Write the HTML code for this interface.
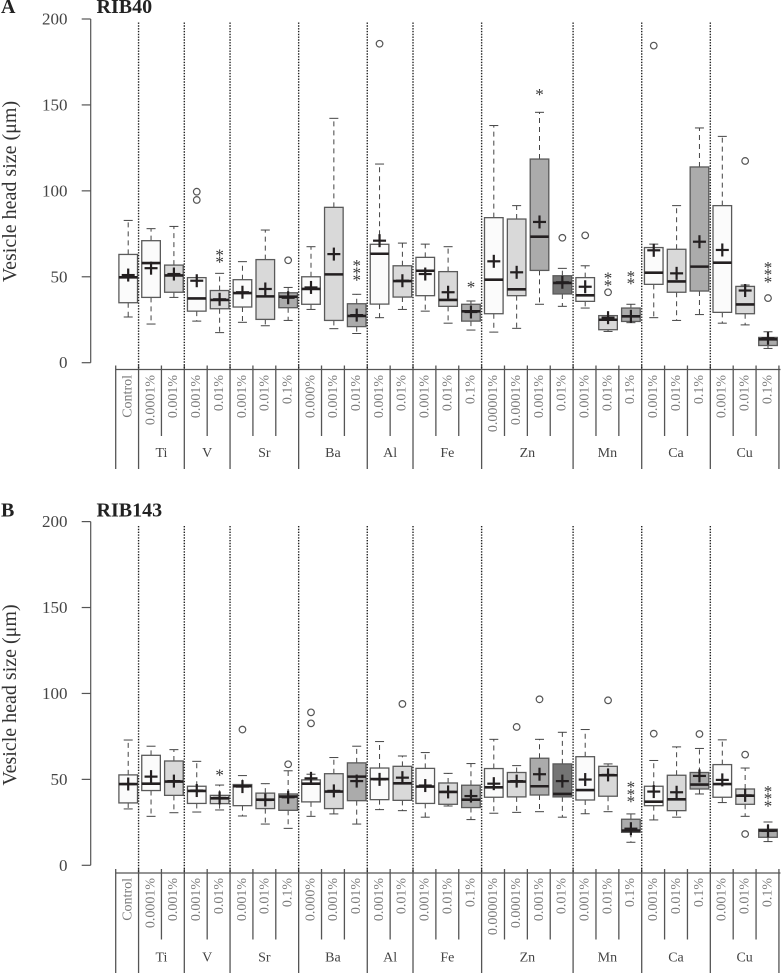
<!DOCTYPE html>
<html>
<head>
<meta charset="utf-8">
<title>Vesicle head size boxplots</title>
<style>
html,body{margin:0;padding:0;background:#fff;}
svg{display:block;font-family:"Liberation Serif",serif;}
</style>
</head>
<body>
<svg id="figure" xmlns="http://www.w3.org/2000/svg" width="781" height="973" viewBox="0 0 781 973"></svg>
<script>
const yTicks = [0, 50, 100, 150, 200];
const concentrations = ["Control","0.0001%","0.001%","0.001%","0.01%","0.001%","0.01%","0.1%","0.000%","0.001%","0.01%","0.001%","0.01%","0.001%","0.01%","0.1%","0.00001%","0.0001%","0.001%","0.01%","0.001%","0.01%","0.1%","0.001%","0.01%","0.1%","0.001%","0.01%","0.1%"];
const groupNames = ["","Ti","V","Sr","Ba","Al","Fe","Zn","Mn","Ca","Cu"];
const groupSizes = [1,2,2,3,3,2,3,4,3,3,3];
const shadeLevels = [0,0,1,0,1,0,1,2,0,1,2,0,1,0,1,2,0,1,2,3,0,1,2,0,1,2,0,1,2];
const shadeLevelsB = [0,0,1,0,1,0,1,2,0,1,2,0,1,0,1,2,0,1,2,3,0,1,2,0,1,2,0,1,2];

const whiskerHighA = [82.8,78,79.3,49.5,52,58.8,77.2,43.8,67.5,142.2,39.8,115.6,69.6,69,67.5,35.9,138,91.4,145.7,54.9,56.4,27.4,34,69,91.4,136.6,131.7,45.2,18];
const quartile3A = [63,71,56.8,49.5,42,48.3,60,40.7,50,90.4,34.3,68.9,56.4,61.3,53,34,84.4,83.6,118.5,50.6,49.5,27.4,31.8,67,66,113.9,91.4,44.4,14.7];
const medianA = [49.7,58,50.8,37.4,36.5,40.5,38.6,38.4,42.9,51.4,27.2,63.4,47.5,53.5,36.5,29.9,48.3,42.7,73.3,46.4,39.2,25,27,52.4,47.3,55.9,58.2,33.9,13.6];
const quartile1A = [34.9,38,41,30,31.4,32.4,25.2,32,34,24.6,21,34.1,38.2,39,32.8,24.2,28.5,39,53.7,40,35.7,19.2,24,45.6,41,41.7,29.3,28.5,10];
const whiskerLowA = [26.6,22.5,38,24.2,17.5,23.5,21.5,24.6,31,19.8,17,26.2,31,30,23,19,17.8,20,34,32.8,31.8,18.2,23.3,26.2,24.6,28,23,22,8.3];
const meanA = [51,55,51.6,47.7,36.9,41,42.9,37.8,43.8,63.2,27.7,71,47.7,51.6,41,29.5,59,52.6,81.9,46.8,44.2,26.2,27,65.4,52,70.4,65.6,42,14.2];
const outliersA = [[],[],[],[99.5,94.7],[],[],[],[59.6],[],[],[],[185.6],[],[],[],[],[],[],[],[72.7],[74.1],[41],[],[184.5],[],[],[],[117.4],[37.6]];
const starCountA = [0,0,0,0,2,0,0,0,0,0,3,0,0,0,0,1,0,0,1,0,0,2,2,0,0,0,0,0,3];
const starBaseA = [0,0,0,0,60,0,0,0,0,0,49.5,0,0,0,0,45.5,0,0,157.5,0,0,46.5,47.5,0,0,0,0,0,48.5];

const whiskerHighB = [72.9,69.3,67.3,60.5,46.7,52.2,47.5,55,53,62.7,69.3,72,63.6,65.6,53.5,59.2,73.3,58,73.3,77.4,79,59,29.9,61,68.9,68,73,56.6,25.2];
const quartile3B = [52.6,64,60.7,46,40.7,47,42,41.5,49.7,53.3,59.6,56.6,57.6,56.4,47.9,46.6,56.3,54,62.3,59,63.2,57.6,26.8,46,52.4,54,58.6,44.4,21];
const medianB = [47.3,47.5,48.7,43.3,39,46,38.2,40,47.5,42.9,51.6,50.2,47.7,45.8,42.7,38.2,45.4,48.7,46,41.5,43.8,52.4,20.2,37,38.4,47,47.3,40.5,20.2];
const quartile1B = [36.3,43.5,40.7,36,35.9,34.7,33,32,36.9,33,37.6,38.2,37.8,36,35.5,33.6,39.6,39.8,40.9,39.8,38,40.2,19.2,34.7,31.8,44.4,39.6,35.5,16.3];
const whiskerLowB = [32.8,28.5,30.6,31,32.2,28.7,24,21.5,28.5,29.9,24,32.4,31.8,28,34.5,26.6,30.3,30.8,31.2,28,30,31.2,13.4,26.4,28,41.5,36.5,28.5,13.8];
const meanB = [47.3,51.6,49,43.5,39.2,45.8,38,39.6,50.6,43.3,49,50,51,46.4,42.7,40.3,47.5,49,53,49,49.9,52.6,21.3,42.9,42.5,52,49.7,40.7,20];
const outliersB = [[],[],[],[],[],[79],[],[58.8],[89,82.6],[],[],[],[93.9],[],[],[],[],[80.5],[96.6],[],[],[96],[],[76.6],[],[76.4],[],[64.4,18.2],[]];
const starCountB = [0,0,0,0,1,0,0,0,0,0,0,0,0,0,0,0,0,0,0,0,0,0,3,0,0,0,0,0,3];
const starBaseB = [0,0,0,0,54,0,0,0,0,0,0,0,0,0,0,0,0,0,0,0,0,0,38.5,0,0,0,0,0,36];

const NS = "http://www.w3.org/2000/svg";
const svg = document.getElementById("figure");
const shadeFill = ["#fbfbfb","#d9d9d9","#ababab","#747474"];
const pxPerUnit = 1.7185;
const xScale = i => 128.2 + 22.85 * i;
const edgeScale = k => 115.7 + 22.87 * k;

function mk(parent, tag, attrs, text){
  const e = document.createElementNS(NS, tag);
  for (const k in attrs) e.setAttribute(k, attrs[k]);
  if (text !== undefined) e.textContent = text;
  parent.appendChild(e);
  return e;
}

function drawPanel(cfg){
  const yScale = v => cfg.zero - v * pxPerUnit;
  const root = mk(svg, "g", {});
  
  

  const letter = mk(root, "text", {x:1, y:cfg.titleY, "font-size":20, "font-weight":"bold", fill:"#222"}, cfg.letter);
  
  
  const title = mk(root, "text", {x:96.5, y:cfg.titleY, "font-size":20, "font-weight":"bold", fill:"#222"}, cfg.title);
  
  

  const yTitle = mk(root, "text", {x:0, y:0, "font-size":20, fill:"#333", "text-anchor":"middle", transform:"translate(16 " + cfg.labelY + ") rotate(-90)"}, "Vesicle head size (μm)");
  
  

  const axis = mk(root, "line", {x1:90.7, x2:90.7, y1:yScale(200), y2:yScale(0), stroke:"#555", "stroke-width":1.2});
  
  
  yTicks.forEach(t => {
    const tick = mk(root, "line", {x1:81.7, x2:90.7, y1:yScale(t), y2:yScale(t), stroke:"#555", "stroke-width":1.2});
    
    
    const lab = mk(root, "text", {x:67.5, y:yScale(t) + 5.5, "font-size":17, "text-anchor":"end", fill:"#444"}, t);
    
    
  });

  concentrations.forEach((name, i) => {
    const cx = xScale(i);
    const box = mk(root, "g", {});
    
    
    const dash = {stroke:"#444", "stroke-width":1, "stroke-dasharray":"5 4"};
    mk(box, "line", Object.assign({x1:cx, x2:cx, y1:yScale(cfg.q3[i]), y2:yScale(cfg.hi[i])}, dash));
    mk(box, "line", Object.assign({x1:cx, x2:cx, y1:yScale(cfg.q1[i]), y2:yScale(cfg.lo[i])}, dash));
    mk(box, "line", {x1:cx-4.5, x2:cx+4.5, y1:yScale(cfg.hi[i]), y2:yScale(cfg.hi[i]), stroke:"#444", "stroke-width":1});
    mk(box, "line", {x1:cx-4.5, x2:cx+4.5, y1:yScale(cfg.lo[i]), y2:yScale(cfg.lo[i]), stroke:"#444", "stroke-width":1});
    mk(box, "rect", {x:cx-9.3, y:yScale(cfg.q3[i]), width:18.6, height:yScale(cfg.q1[i]) - yScale(cfg.q3[i]), fill:shadeFill[cfg.shade[i]], stroke:"#5a5a5a", "stroke-width":1.3});
    mk(box, "line", {x1:cx-9.3, x2:cx+9.3, y1:yScale(cfg.med[i]), y2:yScale(cfg.med[i]), stroke:"#231f20", "stroke-width":2.6});
    mk(box, "line", {x1:cx-6.5, x2:cx+6.5, y1:yScale(cfg.mean[i]), y2:yScale(cfg.mean[i]), stroke:"#231f20", "stroke-width":2.2});
    mk(box, "line", {x1:cx, x2:cx, y1:yScale(cfg.mean[i])-6.5, y2:yScale(cfg.mean[i])+6.5, stroke:"#231f20", "stroke-width":2.2});
    cfg.out[i].forEach(v => {
      mk(box, "circle", {cx:cx, cy:yScale(v), r:3.3, fill:"none", stroke:"#555", "stroke-width":1.2});
    });
    for (let s = 0; s < cfg.stars[i]; s++) {
      const star = mk(root, "text", {x:cx, y:yScale(cfg.starBase[i]) - s * 7.3 + 8, "font-size":17, "text-anchor":"middle", fill:"#333"}, "*");
      
      
    }
    const catX = cx - 1.3;
    const cat = mk(root, "text", {x:0, y:0, "font-size":14, fill:"#777", "text-anchor":"end", transform:"translate(" + (catX + 4.6) + " " + cfg.catY + ") rotate(-90)"}, name);
    
    
  });

  const tableLine = mk(root, "line", {x1:edgeScale(0), x2:780.5, y1:cfg.tableY, y2:cfg.tableY, stroke:"#555", "stroke-width":1.3});
  
  

  let k = 0;
  groupSizes.forEach((size, g) => {
    const left = edgeScale(k);
    const right = edgeScale(k + size);
    const sep = mk(root, "line", {x1:left, x2:left, y1:cfg.tableY-4, y2:cfg.tableBottom, stroke:"#555", "stroke-width":1.3});
    
    
    for (let j = 1; j < size; j++) {
      const inner = mk(root, "line", {x1:edgeScale(k+j), x2:edgeScale(k+j), y1:cfg.tableY-4, y2:cfg.innerBottom, stroke:"#555", "stroke-width":1.3});
      
      
    }
    if (g > 0) {
      const dotted = mk(root, "line", {x1:left, x2:left, y1:cfg.dotTop, y2:cfg.tableY, stroke:"#222", "stroke-width":1.4, "stroke-dasharray":"1.4 1.4"});
      
      
      const lab = mk(root, "text", {x:(left + right) / 2, y:cfg.groupY, "font-size":14, fill:"#444", "text-anchor":"middle"}, groupNames[g]);
      
      
    }
    k += size;
  });
  const endSep = mk(root, "line", {x1:edgeScale(29), x2:edgeScale(29), y1:cfg.tableY-4, y2:cfg.tableBottom, stroke:"#555", "stroke-width":1.3});
  
  
}

drawPanel({key:"a", letter:"A", title:"RIB40", titleY:13, zero:362.7, labelY:191.5, catY:375, tableY:369.5, tableBottom:469, innerBottom:436, groupY:457, dotTop:22.5,
  hi:whiskerHighA, q3:quartile3A, med:medianA, q1:quartile1A, lo:whiskerLowA, mean:meanA, out:outliersA, stars:starCountA, starBase:starBaseA, shade:shadeLevels});
drawPanel({key:"b", letter:"B", title:"RIB143", titleY:516.5, zero:865.3, labelY:695, catY:878, tableY:873, tableBottom:973, innerBottom:939.5, groupY:961.5, dotTop:526,
  hi:whiskerHighB, q3:quartile3B, med:medianB, q1:quartile1B, lo:whiskerLowB, mean:meanB, out:outliersB, stars:starCountB, starBase:starBaseB, shade:shadeLevelsB});
</script>
</body>
</html>
